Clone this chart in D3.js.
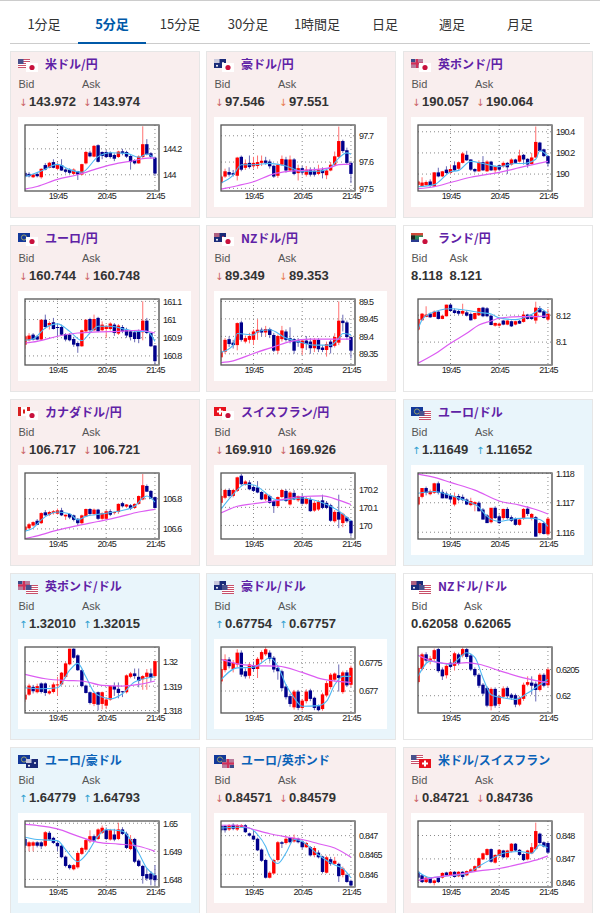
<!DOCTYPE html>
<html>
<head>
<meta charset="utf-8">
<script src="https://cdn.jsdelivr.net/npm/d3@7"></script>
<style>
  html, body { margin: 0; padding: 0; background: #fff; overflow: hidden; }
  svg { display: block; }
  text { font-family: "Liberation Sans", Arial, sans-serif; }
  text.jp { font-family: "Noto Sans CJK JP", sans-serif; }
  text.arrow { font-family: "DejaVu Sans", sans-serif; }
  .tick text { font-size: 9px; letter-spacing: -0.8px; fill: #222; }
</style>
</head>
<body>
<div id="chart"></div>
<script>
// tabs
const tabLabels = ["1分足", "5分足", "15分足", "30分足", "1時間足", "日足", "週足", "月足"];
const tabCentres = [44, 112, 180, 248, 317, 385, 452, 520];

// x axis, bar 8 / 20 / 32
const timeTicks = [8, 20, 32];
const timeLabels = ["19:45", "20:45", "21:45"];
const barCount = 33;

// card text
const pairNames = ["米ドル/円", "豪ドル/円", "英ポンド/円", "ユーロ/円", "NZドル/円", "ランド/円", "カナダドル/円", "スイスフラン/円", "ユーロ/ドル", "英ポンド/ドル", "豪ドル/ドル", "NZドル/ドル", "ユーロ/豪ドル", "ユーロ/英ポンド", "米ドル/スイスフラン"];
const pairFlags = [["us","jp"],["au","jp"],["gb","jp"],["eu","jp"],["nz","jp"],["za","jp"],["ca","jp"],["ch","jp"],["eu","us"],["gb","us"],["au","us"],["nz","us"],["eu","au"],["eu","gb"],["us","ch"]];
const bidValues = ["143.972","97.546","190.057","160.744","89.349","8.118","106.717","169.910","1.11649","1.32010","0.67754","0.62058","1.64779","0.84571","0.84721"];
const askValues = ["143.974","97.551","190.064","160.748","89.353","8.121","106.721","169.926","1.11652","1.32015","0.67757","0.62065","1.64793","0.84579","0.84736"];
const bidMoves = ["down","down","down","down","down","","down","down","up","up","up","","up","down","down"];
const askMoves = ["down","fall","down","down","fall","","down","down","up","up","up","","up","down","down"];
const cardTones = ["pink","pink","pink","pink","pink","none","pink","pink","blue","blue","blue","none","blue","pink","pink"];

// [open, high, low, close], 33 bars per pair. fast/slow = [bar, price]
const usdJpyCandles = [
  [144.015,144.03,143.98,143.989],[144.007,144.02,143.98,143.989],[143.981,144.005,143.975,144.002],[144.007,144.02,143.98,143.989],[143.981,144.05,143.97,144.046],[144.075,144.09,144.035,144.041],[144.054,144.1,144.05,144.093],[144.098,144.12,144.05,144.054],[144.046,144.095,144.035,144.075],[144.075,144.12,144.03,144.033],[144.041,144.05,144.01,144.023],
  [144.038,144.05,144.005,144.015],[144.007,144.05,144,144.04],[144.028,144.03,143.96,144.002],[144.002,144.085,143.995,144.082],[144.088,144.185,144.08,144.176],[144.171,144.185,144.135,144.142],[144.14,144.23,144.135,144.223],[144.228,144.235,144.095,144.1],[144.176,144.18,144.12,144.145],[144.176,144.19,144.13,144.137],[144.171,144.18,144.125,144.137],
  [144.153,144.165,144.105,144.124],[144.137,144.185,144.13,144.179],[144.181,144.2,144.15,144.165],[144.176,144.185,144.13,144.14],[144.145,144.155,144.04,144.098],[144.114,144.12,144.08,144.088],[144.088,144.15,144.085,144.14],[144.137,144.374,144.13,144.236],[144.236,144.275,144.15,144.158],[144.166,144.175,144.125,144.14],[144.132,144.14,143.99,144.01]
];
const usdJpyFast = [[0,143.985],[4,144.03],[8,144.08],[11,144.04],[14,144.02],[18,144.14],[21,144.17],[25,144.165],[28,144.135],[30,144.16],[32,144.125]];
const usdJpySlow = [[0,143.89],[3,143.91],[8,143.965],[13,144.0],[18,144.05],[23,144.09],[27,144.11],[29,144.125],[32,144.13]];
const usdJpyRange = [143.875, 144.384];
const usdJpyTicks = [144.2, 144];

const audJpyCandles = [
  [97.52,97.55,97.51,97.545],[97.545,97.575,97.54,97.565],[97.562,97.58,97.545,97.552],[97.558,97.57,97.545,97.552],[97.548,97.62,97.53,97.617],[97.62,97.625,97.565,97.571],[97.578,97.61,97.57,97.595],[97.597,97.625,97.575,97.581],[97.584,97.62,97.575,97.597],[97.585,97.625,97.575,97.6],[97.597,97.625,97.585,97.605],
  [97.606,97.62,97.59,97.597],[97.602,97.61,97.575,97.584],[97.586,97.59,97.54,97.545],[97.548,97.595,97.54,97.59],[97.59,97.625,97.585,97.612],[97.61,97.62,97.56,97.568],[97.568,97.625,97.565,97.61],[97.61,97.615,97.55,97.555],[97.558,97.59,97.53,97.577],[97.577,97.585,97.55,97.56],[97.552,97.585,97.545,97.571],
  [97.571,97.58,97.545,97.552],[97.567,97.58,97.545,97.552],[97.555,97.59,97.55,97.571],[97.571,97.58,97.538,97.558],[97.55,97.575,97.535,97.568],[97.568,97.6,97.565,97.59],[97.59,97.64,97.585,97.622],[97.62,97.735,97.615,97.68],[97.68,97.685,97.635,97.642],[97.645,97.655,97.59,97.597],[97.597,97.6,97.52,97.555]
];
const audJpyFast = [[0,97.52],[3,97.55],[5,97.59],[8,97.59],[12,97.595],[16,97.585],[20,97.565],[24,97.565],[27,97.58],[29,97.615],[31,97.635],[32,97.63]];
const audJpySlow = [[0,97.497],[4,97.51],[8,97.525],[13,97.555],[17,97.565],[22,97.57],[27,97.58],[29,97.59],[32,97.592]];
const audJpyRange = [97.49, 97.741];
const audJpyTicks = [97.7, 97.6, 97.5];

const gbpJpyCandles = [
  [189.898,189.94,189.89,189.93],[189.888,189.97,189.88,189.92],[189.895,189.94,189.89,189.925],[189.93,189.95,189.88,189.888],[189.882,190.02,189.88,190.016],[190.016,190.06,189.97,189.978],[189.978,190.03,189.97,190.026],[190.042,190.074,190,190.01],[190.01,190.09,190,190.048],[190.083,190.12,190.03,190.035],[190.05,190.12,190.04,190.112],
  [190.106,190.21,190.1,190.195],[190.182,190.22,190.125,190.13],[190.138,190.14,190.03,190.042],[190.048,190.055,190.015,190.026],[190.026,190.13,190.02,190.112],[190.112,190.17,190.03,190.035],[190.026,190.13,190.02,190.118],[190.118,190.125,190.03,190.035],[190.035,190.08,190.01,190.074],[190.083,190.09,190.03,190.042],[190.074,190.12,190.06,190.106],
  [190.106,190.115,190,190.064],[190.09,190.15,190.08,190.138],[190.138,190.145,190.1,190.106],[190.118,190.23,190.11,190.176],[190.182,190.19,190.09,190.138],[190.144,190.15,190.06,190.09],[190.096,190.2,190.09,190.157],[190.157,190.45,190.15,190.304],[190.298,190.305,190.21,190.218],[190.234,190.24,190.16,190.17],[190.17,190.18,190.07,190.1]
];
const gbpJpyFast = [[0,189.88],[4,189.9],[8,190.02],[10,190.035],[13,190.12],[16,190.1],[20,190.07],[24,190.1],[26,190.1],[29,190.14],[30,190.22],[32,190.17]];
const gbpJpySlow = [[0,189.862],[4,189.88],[8,189.92],[13,189.97],[20,190.016],[26,190.07],[32,190.12]];
const gbpJpyRange = [189.84, 190.464];
const gbpJpyTicks = [190.4, 190.2, 190];

const eurJpyCandles = [
  [160.862,160.915,160.84,160.908],[160.886,160.925,160.88,160.912],[160.917,160.925,160.885,160.89],[160.908,160.915,160.885,160.89],[160.89,161.0,160.885,160.999],[160.999,161.027,160.95,160.959],[160.967,160.99,160.945,160.981],[160.985,161.009,160.945,160.948],[160.959,160.978,160.908,160.955],[160.959,160.972,160.915,160.917],[160.92,160.925,160.88,160.89],
  [160.917,160.925,160.88,160.886],[160.893,160.905,160.85,160.862],[160.871,160.88,160.817,160.853],[160.853,160.945,160.85,160.941],[160.935,161.0,160.93,160.999],[161.003,161.01,160.93,160.941],[160.941,161.027,160.935,161.003],[161.009,161.015,160.93,160.935],[160.941,160.99,160.935,160.972],[160.948,160.97,160.899,160.963],
  [160.948,160.985,160.94,160.978],[160.972,160.98,160.91,160.926],[160.923,160.975,160.915,160.967],[160.959,160.97,160.925,160.935],[160.945,160.955,160.9,160.912],[160.935,160.94,160.885,160.904],[160.93,160.94,160.875,160.893],[160.935,160.945,160.87,160.893],[160.93,161.1,160.886,160.994],[160.994,161.009,160.92,160.926],[160.926,160.93,160.85,160.853],[160.857,160.86,160.752,160.771]
];
const eurJpyFast = [[0,160.886],[2,160.893],[5,160.954],[8,160.976],[11,160.935],[14,160.884],[16,160.926],[18,160.963],[21,160.963],[25,160.945],[28,160.935],[30,160.935],[32,160.88]];
const eurJpySlow = [[0,160.871],[3,160.88],[8,160.908],[13,160.926],[18,160.932],[23,160.935],[28,160.941],[32,160.926]];
const eurJpyRange = [160.75, 161.113];
const eurJpyTicks = [161.1, 161, 160.9, 160.8];

const nzdJpyCandles = [
  [89.34,89.36,89.33,89.356],[89.356,89.395,89.35,89.39],[89.392,89.4,89.37,89.378],[89.382,89.39,89.365,89.375],[89.375,89.44,89.36,89.438],[89.44,89.445,89.385,89.39],[89.385,89.402,89.38,89.395],[89.39,89.41,89.38,89.401],[89.39,89.42,89.375,89.414],[89.411,89.449,89.39,89.419],[89.419,89.425,89.4,89.411],
  [89.411,89.43,89.4,89.421],[89.421,89.425,89.395,89.404],[89.404,89.41,89.355,89.359],[89.359,89.405,89.35,89.401],[89.392,89.43,89.385,89.417],[89.414,89.42,89.385,89.39],[89.395,89.426,89.38,89.388],[89.392,89.395,89.35,89.359],[89.388,89.395,89.37,89.382],[89.366,89.392,89.347,89.388],[89.388,89.401,89.361,89.378],
  [89.385,89.395,89.35,89.366],[89.366,89.395,89.355,89.39],[89.39,89.395,89.355,89.363],[89.368,89.375,89.355,89.361],[89.361,89.385,89.342,89.378],[89.385,89.39,89.351,89.369],[89.373,89.409,89.368,89.398],[89.382,89.5,89.375,89.445],[89.445,89.462,89.414,89.438],[89.44,89.445,89.39,89.398],[89.398,89.4,89.337,89.359]
];
const nzdJpyFast = [[0,89.354],[3,89.375],[4,89.408],[8,89.404],[9,89.414],[12,89.419],[16,89.395],[19,89.385],[23,89.375],[27,89.375],[29,89.395],[30,89.408],[32,89.405]];
const nzdJpySlow = [[0,89.325],[3,89.33],[8,89.351],[13,89.37],[17,89.385],[22,89.392],[26,89.392],[32,89.392]];
const nzdJpyRange = [89.318, 89.507];
const nzdJpyTicks = [89.5, 89.45, 89.4, 89.35];

const zarJpyCandles = [
  [8.1093,8.1172,8.1085,8.1172],[8.1162,8.1216,8.116,8.1211],[8.1187,8.1266,8.1185,8.1204],[8.1211,8.122,8.118,8.1184],[8.1187,8.1235,8.1185,8.1226],[8.1226,8.123,8.1168,8.1172],[8.1172,8.12,8.117,8.1196],[8.1192,8.1278,8.119,8.1278],[8.1278,8.1285,8.123,8.1231],[8.1236,8.125,8.121,8.1216],[8.1231,8.124,8.12,8.1211],
  [8.1211,8.1285,8.12,8.1231],[8.1221,8.1235,8.119,8.1196],[8.1209,8.122,8.116,8.1162],[8.1172,8.1216,8.1165,8.1216],[8.1199,8.1256,8.1195,8.1253],[8.1256,8.1262,8.1185,8.1192],[8.1251,8.126,8.1185,8.1192],[8.1196,8.12,8.1125,8.1127],[8.1122,8.1145,8.1115,8.1142],[8.1122,8.1145,8.1115,8.1137],[8.116,8.1165,8.1125,8.113],
  [8.113,8.1165,8.1125,8.116],[8.1155,8.116,8.1112,8.1117],[8.113,8.1158,8.1125,8.1155],[8.1158,8.1165,8.1135,8.1137],[8.115,8.1229,8.1145,8.1204],[8.1204,8.121,8.1168,8.1172],[8.1196,8.1205,8.1165,8.1172],[8.116,8.130,8.1137,8.1256],[8.1253,8.1268,8.122,8.1221],[8.1229,8.1235,8.1175,8.1179],[8.1167,8.1245,8.1155,8.1211]
];
const zarJpyFast = [[0,8.1096],[1,8.1165],[3,8.1213],[8,8.1248],[12,8.1236],[15,8.1221],[18,8.1208],[20,8.118],[24,8.1167],[27,8.1192],[29,8.1224],[30,8.1248],[32,8.1213]];
const zarJpySlow = [[0,8.0843],[4,8.0909],[8,8.0991],[12,8.1065],[15,8.1127],[18,8.1157],[20,8.1177],[25,8.1189],[29,8.1189],[32,8.1194]];
const zarJpyRange = [8.083, 8.132];
const zarJpyTicks = [8.12, 8.1];

const cadJpyCandles = [
  [106.593,106.62,106.585,106.615],[106.604,106.64,106.6,106.631],[106.622,106.65,106.615,106.645],[106.654,106.665,106.625,106.627],[106.638,106.71,106.632,106.705],[106.71,106.725,106.685,106.69],[106.694,106.72,106.685,106.712],[106.705,106.725,106.695,106.717],[106.701,106.735,106.695,106.723],[106.723,106.74,106.685,106.69],[106.683,106.695,106.66,106.694],
  [106.699,106.705,106.665,106.676],[106.69,106.695,106.65,106.66],[106.667,106.672,106.62,106.638],[106.638,106.695,106.63,106.69],[106.683,106.735,106.678,106.732],[106.732,106.738,106.69,106.699],[106.699,106.735,106.69,106.728],[106.728,106.733,106.66,106.667],[106.667,106.71,106.66,106.705],[106.667,106.725,106.66,106.717],[106.717,106.73,106.685,106.694],
  [106.705,106.715,106.695,106.712],[106.712,106.77,106.7,106.766],[106.771,106.78,106.742,106.75],[106.748,106.765,106.74,106.762],[106.757,106.765,106.725,106.735],[106.739,106.77,106.732,106.766],[106.766,106.822,106.76,106.818],[106.795,106.964,106.79,106.89],[106.885,106.895,106.845,106.847],[106.852,106.858,106.8,106.802],[106.811,106.815,106.735,106.739]
];
const cadJpyFast = [[0,106.585],[2,106.605],[4,106.66],[8,106.712],[11,106.7],[13,106.66],[15,106.683],[19,106.7],[23,106.717],[27,106.75],[29,106.806],[30,106.818],[32,106.777]];
const cadJpySlow = [[0,106.536],[3,106.554],[8,106.592],[13,106.622],[18,106.649],[23,106.678],[28,106.712],[32,106.73]];
const cadJpyRange = [106.533, 106.971];
const cadJpyTicks = [106.8, 106.6];

const chfJpyCandles = [
  [170.125,170.17,170.115,170.163],[170.153,170.2,170.145,170.196],[170.196,170.205,170.155,170.163],[170.163,170.2,170.155,170.196],[170.191,170.27,170.185,170.266],[170.275,170.285,170.22,170.228],[170.225,170.25,170.22,170.243],[170.238,170.25,170.195,170.2],[170.213,170.22,170.185,170.191],[170.21,170.245,170.178,170.182],[170.185,170.19,170.14,170.144],
  [170.144,170.18,170.135,170.172],[170.163,170.17,170.12,170.125],[170.135,170.14,170.069,170.107],[170.107,170.16,170.1,170.157],[170.157,170.2,170.15,170.196],[170.191,170.2,170.13,170.135],[170.116,170.19,170.11,170.182],[170.18,170.195,170.14,170.144],[170.139,170.165,170.13,170.163],[170.159,170.175,170.115,170.12],
  [170.12,170.16,170.115,170.15],[170.144,170.155,170.075,170.079],[170.082,170.135,170.075,170.125],[170.088,170.14,170.08,170.131],[170.139,170.17,170.09,170.097],[170.125,170.135,170.09,170.097],[170.112,170.12,170.02,170.026],[170.023,170.085,170.015,170.075],[170.075,170.17,169.985,170.032],[170.013,170.07,169.99,170.064],[170.045,170.05,170.015,170.023],[170.026,170.03,169.938,169.957]
];
const chfJpyFast = [[0,170.09],[3,170.172],[6,170.228],[8,170.224],[11,170.18],[13,170.146],[15,170.14],[20,170.152],[25,170.125],[29,170.08],[32,170.026]];
const chfJpySlow = [[0,170.069],[4,170.106],[8,170.12],[13,170.135],[20,170.16],[25,170.163],[29,170.14],[32,170.116]];
const chfJpyRange = [169.925, 170.29];
const chfJpyTicks = [170.2, 170.1, 170];

const eurUsdCandles = [
  [1.11694,1.1172,1.1169,1.1172],[1.1172,1.1175,1.11715,1.1175],[1.1175,1.11755,1.11725,1.11734],[1.11729,1.11745,1.11725,1.1174],[1.11734,1.11768,1.1173,1.11766],[1.11766,1.11772,1.11728,1.11734],[1.11737,1.11745,1.11715,1.11715],[1.11731,1.11738,1.11715,1.11715],[1.11725,1.1173,1.117,1.11711],[1.11694,1.11735,1.11688,1.11723],[1.11723,1.1173,1.11705,1.11711],
  [1.1172,1.11728,1.11705,1.11709],[1.11711,1.11715,1.11692,1.11694],[1.11692,1.11717,1.11688,1.11706],[1.11694,1.11705,1.11671,1.11702],[1.117,1.11705,1.11671,1.11671],[1.11677,1.11682,1.11643,1.11643],[1.11657,1.11662,1.11631,1.11631],[1.11634,1.11682,1.1163,1.11683],[1.11683,1.11688,1.11645,1.11648],[1.11654,1.1166,1.11628,1.11631],
  [1.11648,1.1168,1.11642,1.11679],[1.11679,1.11685,1.11643,1.11648],[1.11651,1.11657,1.11635,1.11639],[1.11646,1.1165,1.11622,1.11625],[1.11625,1.11648,1.11622,1.11643],[1.11648,1.11682,1.11642,1.11679],[1.1168,1.11688,1.11655,1.11662],[1.11646,1.11665,1.1164,1.11662],[1.11651,1.11655,1.11585,1.11585],[1.11597,1.11635,1.11592,1.11631],[1.11631,1.11635,1.11592,1.11594],[1.11593,1.11651,1.11588,1.11646]
];
const eurUsdFast = [[0,1.11732],[4,1.11738],[8,1.11725],[12,1.11706],[15,1.11685],[17,1.11654],[20,1.11637],[24,1.11646],[27,1.11648],[30,1.11643],[32,1.1162]];
const eurUsdSlow = [[0,1.11797],[4,1.11786],[8,1.11769],[14,1.11743],[20,1.11706],[25,1.11692],[29,1.11677],[32,1.11662]];
const eurUsdRange = [1.11577, 1.11801];
const eurUsdTicks = [1.118, 1.117, 1.116];

const gbpUsdCandles = [
  [1.31845,1.31875,1.31835,1.31865],[1.31865,1.3191,1.3186,1.31902],[1.31897,1.31905,1.3187,1.31879],[1.31875,1.3191,1.3187,1.319],[1.31911,1.31915,1.3187,1.31876],[1.31911,1.31915,1.3186,1.31872],[1.3187,1.31885,1.31865,1.31879],[1.31876,1.31915,1.3187,1.31907],[1.31903,1.31938,1.3186,1.31907],[1.31907,1.31958,1.31903,1.31955],[1.31938,1.32,1.31932,1.31993],
  [1.31989,1.32053,1.31985,1.32053],[1.32053,1.32055,1.32012,1.32016],[1.32026,1.3203,1.31962,1.31965],[1.31965,1.31968,1.31895,1.319],[1.31902,1.31906,1.3187,1.31872],[1.31875,1.31878,1.31825,1.31831],[1.31827,1.31878,1.31818,1.31872],[1.31875,1.31878,1.31801,1.31824],[1.31827,1.31878,1.31805,1.31875],[1.3182,1.31855,1.31806,1.31845],[1.31845,1.31903,1.3184,1.319],
  [1.319,1.31915,1.3186,1.31886],[1.31889,1.31915,1.3185,1.31872],[1.31879,1.3188,1.31855,1.31875],[1.31875,1.31948,1.3187,1.31944],[1.31938,1.31958,1.31932,1.31952],[1.31952,1.31972,1.3193,1.31941],[1.31938,1.31972,1.31895,1.31921],[1.31928,1.31945,1.31885,1.31941],[1.31938,1.3197,1.31885,1.31955],[1.31952,1.31972,1.31917,1.31934],[1.31941,1.32005,1.31935,1.32002]
];
const gbpUsdFast = [[0,1.31893],[4,1.31889],[8,1.31893],[11,1.31965],[13,1.31993],[15,1.31938],[17,1.31875],[19,1.31855],[21,1.31848],[24,1.31869],[27,1.31917],[32,1.31938]];
const gbpUsdSlow = [[0,1.31948],[5,1.3193],[10,1.31923],[14,1.31921],[19,1.31903],[24,1.319],[28,1.31907],[32,1.31921]];
const gbpUsdRange = [1.3179, 1.3206];
const gbpUsdTicks = [1.32, 1.319, 1.318];

const audUsdCandles = [
  [.67717,.67742,.67712,.67739],[.67737,.67765,.67733,.67756],[.67756,.6776,.6774,.67744],[.67739,.67755,.67733,.6775],[.67747,.67774,.67742,.67768],[.67768,.67772,.67725,.67729],[.67735,.6774,.67722,.67726],[.67727,.6775,.67722,.67747],[.67744,.67752,.67735,.67739],[.67739,.6776,.67723,.67757],[.67756,.67772,.6775,.67769],
  [.67765,.67778,.67762,.67774],[.67768,.67772,.67752,.67757],[.67759,.67762,.67733,.67738],[.67741,.67745,.6772,.67735],[.67735,.67738,.677,.67705],[.67708,.67712,.67685,.67689],[.67691,.67695,.67672,.67677],[.67671,.67702,.67667,.67699],[.67699,.67702,.67666,.6767],[.6767,.67686,.67666,.67683],[.67682,.67703,.67678,.67699],
  [.67701,.67704,.67682,.67686],[.67688,.6769,.67666,.6767],[.67673,.67676,.67664,.67666],[.67668,.67697,.67665,.67694],[.67692,.67718,.67689,.67714],[.67707,.67732,.67703,.67729],[.6772,.67733,.67717,.67731],[.67728,.67747,.67699,.67723],[.67698,.67736,.67695,.67733],[.67733,.67737,.67707,.6771],[.67711,.67745,.67707,.67741]
];
const audUsdFast = [[0,.6772],[4,.67741],[8,.67742],[10,.6775],[12,.67759],[14,.67744],[16,.67711],[18,.67688],[20,.67673],[24,.67674],[26,.67682],[28,.67711],[30,.67726],[32,.67726]];
const audUsdSlow = [[0,.67756],[4,.67748],[8,.67745],[14,.67744],[20,.67733],[25,.67721],[29,.67717],[32,.67715]];
const audUsdRange = [.67661, .67778];
const audUsdTicks = [.6775, .677];

const nzdUsdCandles = [
  [.62026,.62056,.62023,.62053],[.62051,.62082,.62048,.62079],[.62079,.62083,.62063,.62067],[.62066,.62076,.6206,.62071],[.6207,.6209,.62065,.62087],[.62089,.62091,.62044,.62047],[.6205,.62054,.6203,.62037],[.62039,.6206,.62033,.62057],[.62063,.62068,.62052,.62055],[.62057,.62084,.62048,.62081],[.62079,.62082,.62058,.62061],
  [.62077,.62092,.62073,.62089],[.62089,.62091,.6207,.62074],[.62077,.6208,.62047,.6205],[.62051,.62054,.62036,.62039],[.6204,.62043,.62015,.62019],[.62021,.62024,.62,.62004],[.62015,.62018,.61978,.61981],[.6198,.62016,.61972,.62013],[.62013,.62016,.61977,.61981],[.61984,.62002,.6198,.61999],[.61998,.62018,.61995,.62014],
  [.62015,.62018,.61995,.61999],[.62002,.62005,.61992,.61996],[.62001,.62004,.61978,.61983],[.61983,.61999,.6198,.61996],[.61994,.62025,.6199,.62021],[.62021,.62037,.62018,.62026],[.62025,.62037,.62002,.62019],[.62023,.62027,.61989,.62011],[.62011,.62043,.62008,.6204],[.6204,.62043,.62016,.62019],[.6202,.62053,.62017,.6205]
];
const nzdUsdFast = [[0,.62037],[3,.62066],[8,.6206],[12,.62082],[14,.62073],[16,.62034],[18,.62002],[21,.61996],[24,.61993],[27,.62005],[30,.62021],[32,.62031]];
const nzdUsdSlow = [[0,.62077],[5,.62063],[8,.62061],[12,.62063],[15,.6206],[20,.62048],[26,.62034],[32,.62025]];
const nzdUsdRange = [.61967, .62093];
const nzdUsdTicks = [.6205, .62];

const eurAudCandles = [
  [1.64944,1.64952,1.64912,1.6492],[1.64918,1.64936,1.649,1.64932],[1.6492,1.64936,1.649,1.64932],[1.64932,1.64936,1.64914,1.6492],[1.64932,1.64936,1.64908,1.64918],[1.6492,1.64972,1.64916,1.64968],[1.64966,1.64972,1.64938,1.64942],[1.64948,1.64952,1.64926,1.6493],[1.6493,1.64934,1.649,1.64918],[1.6492,1.64924,1.64875,1.64879],[1.64881,1.64885,1.64843,1.64848],
  [1.64851,1.64855,1.64835,1.6484],[1.64836,1.64855,1.64832,1.64851],[1.64843,1.64898,1.64838,1.64894],[1.64891,1.64916,1.64887,1.64912],[1.64906,1.64944,1.64902,1.6494],[1.64936,1.64975,1.6493,1.64954],[1.64954,1.6496,1.64934,1.64938],[1.64944,1.64982,1.6494,1.64978],[1.64966,1.64992,1.64962,1.64984],[1.64975,1.64985,1.6494,1.64944],[1.64942,1.6498,1.64938,1.64975],
  [1.6496,1.6498,1.64936,1.64942],[1.64944,1.65002,1.6494,1.64978],[1.64978,1.64986,1.64958,1.64962],[1.64963,1.6497,1.64908,1.64912],[1.64908,1.64958,1.64904,1.64944],[1.64944,1.64948,1.64858,1.64863],[1.64867,1.64872,1.64844,1.64848],[1.64848,1.64852,1.64785,1.64812],[1.64819,1.6484,1.64795,1.64803],[1.64821,1.6483,1.64779,1.648],[1.64815,1.64851,1.64779,1.64797]
];
const eurAudFast = [[0,1.6495],[3,1.64942],[8,1.64938],[10,1.64906],[13,1.64863],[15,1.64887],[18,1.64954],[20,1.64978],[24,1.64972],[26,1.64942],[28,1.64894],[30,1.6484],[32,1.64815]];
const eurAudSlow = [[0,1.64996],[3,1.64992],[8,1.6498],[13,1.64954],[18,1.64932],[23,1.64926],[28,1.64918],[32,1.649]];
const eurAudRange = [1.64773, 1.65008];
const eurAudTicks = [1.65, 1.649, 1.648];

const eurGbpCandles = [
  [.84725,.84728,.84708,.84714],[.84725,.84728,.84708,.84714],[.84716,.8473,.84712,.84727],[.84728,.84732,.84714,.84718],[.84716,.8473,.84712,.84727],[.84723,.8473,.8472,.84727],[.84727,.8473,.84707,.84709],[.84706,.84708,.84698,.847],[.847,.84716,.84688,.8469],[.84692,.84695,.8466,.84662],[.84664,.84667,.84632,.84635],
  [.84637,.8464,.84589,.84591],[.84591,.84608,.84589,.84604],[.84602,.8464,.846,.84637],[.84637,.84686,.84633,.84683],[.84683,.84686,.84668,.84679],[.84681,.847,.84677,.84692],[.84694,.84697,.8468,.84683],[.84685,.84703,.84682,.84694],[.84692,.84695,.8468,.84683],[.84685,.84688,.84665,.8467],[.8467,.84684,.84668,.84681],
  [.8467,.84673,.84646,.84649],[.8465,.84673,.84644,.84668],[.84656,.84662,.84641,.84644],[.84646,.84648,.84602,.84606],[.84604,.84648,.84602,.84644],[.84639,.84645,.84622,.84627],[.84627,.84645,.84625,.84635],[.84627,.8463,.8458,.84595],[.84598,.8462,.84592,.84615],[.84598,.84602,.84578,.8458],[.84583,.84586,.84568,.84571]
];
const eurGbpFast = [[0,.8472],[4,.84722],[7,.8472],[9,.84703],[11,.84672],[12,.84646],[14,.84628],[16,.84655],[18,.8469],[20,.84685],[24,.8465],[28,.84624],[30,.84615],[32,.84591]];
const eurGbpSlow = [[0,.84727],[4,.84727],[8,.84716],[12,.84705],[16,.84697],[20,.8469],[24,.84679],[28,.84668],[32,.84644]];
const eurGbpRange = [.84567, .84738];
const eurGbpTicks = [.847, .8465, .846];

const usdChfCandles = [
  [.84645,.8465,.84615,.8462],[.8463,.84635,.84598,.84601],[.84601,.84625,.84597,.8462],[.84619,.84622,.84595,.84598],[.84597,.84612,.84587,.84608],[.8462,.84623,.84598,.84601],[.8462,.84643,.84616,.8464],[.84642,.84645,.84627,.8463],[.8463,.84648,.84626,.84645],[.84645,.84648,.8462,.84623],[.84626,.84648,.84622,.84645],
  [.84645,.84648,.84612,.84623],[.8463,.84651,.84626,.84648],[.84645,.84659,.84642,.84655],[.84649,.84672,.84645,.84669],[.84663,.84706,.8466,.84703],[.84698,.84727,.84695,.84724],[.84717,.84745,.84714,.84742],[.84742,.84745,.84684,.84688],[.84684,.8472,.8468,.84717],[.84713,.84742,.8471,.84739],[.84736,.84739,.84703,.84707],
  [.84707,.84739,.84703,.84736],[.84732,.84768,.84728,.84765],[.84765,.84768,.84732,.84736],[.84739,.84742,.84713,.84717],[.84721,.84724,.84691,.84695],[.84698,.84739,.84694,.84736],[.84724,.84768,.8472,.8475],[.84742,.84855,.84738,.84819],[.84808,.84812,.84764,.84768],[.84771,.84775,.84749,.84753],[.84768,.84772,.84723,.84727]
];
const usdChfFast = [[0,.84645],[3,.8462],[7,.84627],[12,.84637],[15,.84669],[18,.84698],[21,.84724],[25,.84732],[28,.84724],[30,.8476],[32,.84746]];
const usdChfSlow = [[0,.84608],[5,.84623],[10,.84634],[15,.84649],[20,.84659],[25,.84678],[30,.847],[32,.84713]];
const usdChfRange = [.8458, .84862];
const usdChfTicks = [.848, .847, .846];

const pairCandles = [usdJpyCandles, audJpyCandles, gbpJpyCandles, eurJpyCandles, nzdJpyCandles, zarJpyCandles, cadJpyCandles, chfJpyCandles, eurUsdCandles, gbpUsdCandles, audUsdCandles, nzdUsdCandles, eurAudCandles, eurGbpCandles, usdChfCandles];
const pairFast = [usdJpyFast, audJpyFast, gbpJpyFast, eurJpyFast, nzdJpyFast, zarJpyFast, cadJpyFast, chfJpyFast, eurUsdFast, gbpUsdFast, audUsdFast, nzdUsdFast, eurAudFast, eurGbpFast, usdChfFast];
const pairSlow = [usdJpySlow, audJpySlow, gbpJpySlow, eurJpySlow, nzdJpySlow, zarJpySlow, cadJpySlow, chfJpySlow, eurUsdSlow, gbpUsdSlow, audUsdSlow, nzdUsdSlow, eurAudSlow, eurGbpSlow, usdChfSlow];
const pairRanges = [usdJpyRange, audJpyRange, gbpJpyRange, eurJpyRange, nzdJpyRange, zarJpyRange, cadJpyRange, chfJpyRange, eurUsdRange, gbpUsdRange, audUsdRange, nzdUsdRange, eurAudRange, eurGbpRange, usdChfRange];
const pairTicks = [usdJpyTicks, audJpyTicks, gbpJpyTicks, eurJpyTicks, nzdJpyTicks, zarJpyTicks, cadJpyTicks, chfJpyTicks, eurUsdTicks, gbpUsdTicks, audUsdTicks, nzdUsdTicks, eurAudTicks, eurGbpTicks, usdChfTicks];

const width = 600, height = 913;
const cardW = 189, cardH = 166;
const colX = [10, 206, 403], rowY = [51, 225, 399, 573, 747];
const plotW = 134, plotH = 66;
const toneFill = { pink: "#f9eeee", blue: "#e9f5fb", none: "#fff" };
const moveColor = { down: "#c9605f", fall: "#e8794a", up: "#2f9fd0" };
const moveGlyph = { down: "↓", fall: "↓", up: "↑" };

const svg = d3.select("#chart").append("svg")
  .attr("width", width)
  .attr("height", height);

// tab bar
svg.append("rect").attr("width", width).attr("height", 1).attr("fill", "#ccc");
svg.append("rect").attr("x", 10).attr("y", 43).attr("width", 580).attr("height", 1).attr("fill", "#ccc");
svg.append("rect").attr("x", 78).attr("y", 42).attr("width", 68).attr("height", 2).attr("fill", "#0059a8");
svg.append("g").selectAll("text")
  .data(tabLabels)
  .join("text")
  .attr("class", "jp")
  .attr("x", (d, i) => tabCentres[i])
  .attr("y", 29)
  .attr("text-anchor", "middle")
  .attr("font-size", 13)
  .attr("font-weight", (d, i) => i === 1 ? 700 : 400)
  .attr("fill", (d, i) => i === 1 ? "#0059a8" : "#333")
  .text(d => d);

// tiny flag icons
function drawFlag(g, code, x, y) {
  const f = g.append("g").attr("transform", `translate(${x},${y})`);
  const w = 12, h = 9;
  const r = (rx, ry, rw, rh, c) => f.append("rect").attr("x", rx).attr("y", ry).attr("width", rw).attr("height", rh).attr("fill", c);
  if (code === "jp") {
    r(0, 0, w, h, "#fff");
    f.append("circle").attr("cx", 6).attr("cy", 4.5).attr("r", 2.6).attr("fill", "#c8103c");
  } else if (code === "us") {
    r(0, 0, w, h, "#fff");
    [0, 2, 4, 6, 8].forEach(s => r(0, s, w, 1, "#c8506a"));
    r(0, 0, 5.5, 5, "#48508c");
  } else if (code === "au" || code === "nz") {
    r(0, 0, w, h, "#1a2a78");
    r(0, 0, 5.5, 4, code === "au" ? "#c8c8dc" : "#b06080");
    f.append("circle").attr("cx", 9).attr("cy", 4).attr("r", 1).attr("fill", code === "au" ? "#fff" : "#d04060");
    f.append("circle").attr("cx", 3).attr("cy", 6.8).attr("r", 1).attr("fill", "#fff");
  } else if (code === "gb") {
    r(0, 0, w, h, "#b87c9c");
    r(0, 3.5, w, 2, "#d03058");
    r(5, 0, 2, h, "#d03058");
    r(0, 0, 4, 3, "#3a4a88");
    r(8, 6, 4, 3, "#3a4a88");
  } else if (code === "eu") {
    r(0, 0, w, h, "#12389a");
    f.append("circle").attr("cx", 6).attr("cy", 4.5).attr("r", 2.6).attr("fill", "none").attr("stroke", "#b8b860").attr("stroke-width", 0.8);
  } else if (code === "za") {
    r(0, 0, w, h, "#2a8a5a");
    r(0, 0, w, 2.5, "#d04a3a");
    r(0, 6.5, w, 2.5, "#2a3a90");
    r(0, 2.5, 4, 4, "#222");
  } else if (code === "ca") {
    r(0, 0, w, h, "#fff");
    r(0, 0, 3, h, "#d82020");
    r(9, 0, 3, h, "#d82020");
    r(5, 2.5, 2, 4, "#d82020");
  } else if (code === "ch") {
    r(0, 0, w, h, "#e8101c");
    r(3, 3.5, 6, 2, "#fff");
    r(5, 1.5, 2, 6, "#fff");
  }
}

pairNames.forEach((name, k) => {
  const col = k % 3, row = Math.floor(k / 3);
  const card = svg.append("g").attr("transform", `translate(${colX[col]},${rowY[row]})`);

  card.append("rect")
    .attr("x", 0.5).attr("y", 0.5)
    .attr("width", cardW).attr("height", cardH)
    .attr("fill", toneFill[cardTones[k]])
    .attr("stroke", "#e6e6e6");

  drawFlag(card, pairFlags[k][0], 8, 8);
  drawFlag(card, pairFlags[k][1], 16, 12);

  card.append("text")
    .attr("class", "jp")
    .attr("x", 35).attr("y", 18)
    .attr("font-size", 12)
    .attr("font-weight", 700)
    .attr("fill", row === 4 ? "#0a62b8" : "#5f22a6")
    .text(name);

  // quote row, narrower when there are no arrows
  const hasArrow = bidMoves[k] !== "";
  const askX = hasArrow ? 72 : (bidValues[k].length - 1) * 7.23 + 17.6;
  card.append("text").attr("x", 8.5).attr("y", 37).attr("font-size", 11).attr("fill", "#555").text("Bid");
  card.append("text").attr("x", askX).attr("y", 37).attr("font-size", 11).attr("fill", "#555").text("Ask");

  if (hasArrow) {
    card.append("text").attr("class", "arrow").attr("x", 9).attr("y", 54.5).attr("font-size", 10).attr("fill", moveColor[bidMoves[k]]).text(moveGlyph[bidMoves[k]]);
    card.append("text").attr("class", "arrow").attr("x", 73).attr("y", 54.5).attr("font-size", 10).attr("fill", moveColor[askMoves[k]]).text(moveGlyph[askMoves[k]]);
  }
  const valueStyle = (t) => t.attr("y", 55).attr("font-size", 13).attr("font-weight", 700).attr("fill", "#333");
  card.append("text").attr("x", hasArrow ? 19 : 8).call(valueStyle).text(bidValues[k]);
  card.append("text").attr("x", hasArrow ? 83 : askX).call(valueStyle).text(askValues[k]);

  // chart image
  card.append("rect").attr("x", 8).attr("y", 66).attr("width", 173).attr("height", 90).attr("fill", "#fff");
  const plot = card.append("g").attr("transform", "translate(15,74)");

  const x = d3.scaleLinear().domain([0, barCount]).range([0, plotW]);
  const y = d3.scaleLinear().domain(pairRanges[k]).range([plotH, 0]);

  const clipId = `clip-${k}`;
  plot.append("clipPath").attr("id", clipId)
    .append("rect").attr("width", plotW).attr("height", plotH);

  // grid
  plot.append("g").selectAll("line")
    .data(pairTicks[k])
    .join("line")
    .attr("x1", 0).attr("x2", plotW)
    .attr("y1", d => y(d)).attr("y2", d => y(d))
    .attr("stroke", "#8a8a8a")
    .attr("stroke-dasharray", "1 3");
  plot.append("g").selectAll("line")
    .data(timeTicks)
    .join("line")
    .attr("x1", d => x(d)).attr("x2", d => x(d))
    .attr("y1", 0).attr("y2", plotH)
    .attr("stroke", "#8a8a8a")
    .attr("stroke-dasharray", "1 3");

  const marks = plot.append("g").attr("clip-path", `url(#${clipId})`);

  marks.append("g").selectAll("line")
    .data(pairCandles[k])
    .join("line")
    .attr("x1", (d, i) => x(i)).attr("x2", (d, i) => x(i))
    .attr("y1", d => y(d[1])).attr("y2", d => y(d[2]))
    .attr("stroke", d => d[3] >= d[0] ? "#ff7070" : "#6a6ab4")
    .attr("stroke-width", 1);

  marks.append("g").selectAll("rect")
    .data(pairCandles[k])
    .join("rect")
    .attr("x", (d, i) => x(i) - 1.7)
    .attr("y", d => y(Math.max(d[0], d[3])))
    .attr("width", 3.4)
    .attr("height", d => Math.max(1, Math.abs(y(d[0]) - y(d[3]))))
    .attr("fill", d => d[3] >= d[0] ? "#f00" : "#00008b");

  const line = d3.line()
    .x(d => x(d[0]))
    .y(d => y(d[1]))
    .curve(d3.curveMonotoneX);

  marks.append("path").attr("d", line(pairFast[k])).attr("fill", "none").attr("stroke", "#4fb8f2").attr("stroke-width", 1.1);
  marks.append("path").attr("d", line(pairSlow[k])).attr("fill", "none").attr("stroke", "#dc5cf2").attr("stroke-width", 1.2);

  // frame
  plot.append("rect")
    .attr("width", plotW).attr("height", plotH)
    .attr("fill", "none")
    .attr("stroke", "#555")
    .attr("stroke-width", 1.3);
  plot.append("line")
    .attr("x1", plotW).attr("x2", plotW)
    .attr("y1", 0).attr("y2", plotH)
    .attr("stroke", "#888")
    .attr("stroke-width", 2);

  // axes
  const xAxis = d3.axisBottom(x)
    .tickValues(timeTicks)
    .tickFormat((d, i) => timeLabels[i])
    .tickSize(0)
    .tickPadding(2);
  const gx = plot.append("g").attr("transform", `translate(0,${plotH})`).call(xAxis);
  gx.select(".domain").remove();

  const yAxis = d3.axisRight(y)
    .tickValues(pairTicks[k])
    .tickFormat(d => String(d))
    .tickSize(0)
    .tickPadding(4);
  const gy = plot.append("g").attr("transform", `translate(${plotW},0)`).call(yAxis);
  gy.select(".domain").remove();
});
</script>
</body>
</html>
